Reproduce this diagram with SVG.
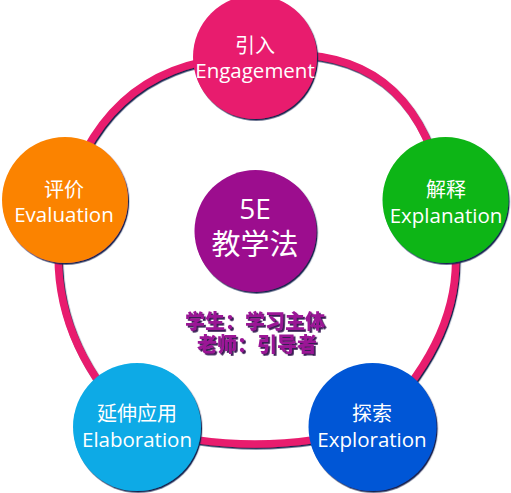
<svg xmlns="http://www.w3.org/2000/svg" width="511" height="493" viewBox="0 0 511 493">
<defs>
<filter id="sh" x="-20%" y="-20%" width="140%" height="140%">
<feDropShadow dx="1.2" dy="1.6" stdDeviation="0.4" flood-color="#172050" flood-opacity="1"/>
</filter>
<filter id="tsh" x="-10%" y="-30%" width="120%" height="160%">
<feDropShadow dx="1.8" dy="1.8" stdDeviation="0.3" flood-color="#3a1a55" flood-opacity="1"/>
</filter>
<style>
.ring{fill:none;stroke:#E81C6E;stroke-width:7.5;stroke-linejoin:round}
.lbl{font-family:"Open Sans","Noto Sans CJK SC",sans-serif;font-size:20.5px;fill:#ffffff;text-anchor:middle}
.zh{font-family:"Noto Sans CJK SC","Open Sans",sans-serif;font-size:20px;fill:#ffffff;text-anchor:middle}
.note{font-family:"Noto Sans CJK SC",sans-serif;font-size:20px;font-weight:900;fill:#9B1696;text-anchor:middle}
</style>
</defs>
<g id="connectors" filter="url(#sh)">
<path class="ring" d="M255,57 Q110,55 65,200 Q35,326.5 137,427 Q255.5,461 372,427 Q485.5,316.5 445,200 Q415,35 255,57 Z"/>
</g>
<g id="engagement">
<circle cx="255" cy="57" r="62" fill="#E81C6E" filter="url(#sh)"/>
<text class="zh" x="255" y="53">引入</text>
<text class="lbl" x="255" y="78">Engagement</text>
</g>
<g id="explanation">
<circle cx="445.5" cy="200" r="63" fill="#0BB513" filter="url(#sh)"/>
<text class="zh" x="446" y="197">解释</text>
<text class="lbl" x="446" y="223">Explanation</text>
</g>
<g id="exploration">
<circle cx="372.5" cy="427" r="64" fill="#0457D6" filter="url(#sh)"/>
<text class="zh" x="372" y="421">探索</text>
<text class="lbl" x="372" y="447">Exploration</text>
</g>
<g id="elaboration">
<circle cx="137" cy="427" r="64" fill="#08AAE6" filter="url(#sh)"/>
<text class="zh" x="137" y="421">延伸应用</text>
<text class="lbl" x="137" y="447">Elaboration</text>
</g>
<g id="evaluation">
<circle cx="65" cy="200" r="63" fill="#FB8305" filter="url(#sh)"/>
<text class="zh" x="64" y="197">评价</text>
<text class="lbl" x="64" y="222">Evaluation</text>
</g>
<g id="center">
<circle cx="255.5" cy="231" r="61" fill="#9C0E8E" filter="url(#sh)"/>
<text class="lbl" x="255" y="219" style="font-size:28px">5E</text>
<text class="zh" x="255" y="255" style="font-size:29px">教学法</text>
</g>
<g id="roles" filter="url(#tsh)">
<text class="note" x="255" y="329">学生：学习主体</text>
<text class="note" x="257" y="352">老师：引导者</text>
</g>
</svg>
